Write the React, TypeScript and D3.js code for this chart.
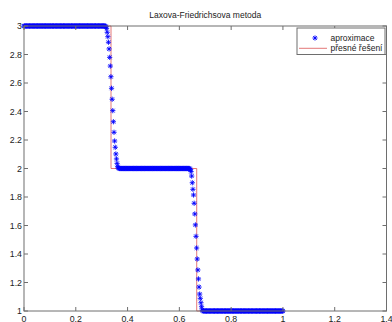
import React from "react";
import * as d3 from "d3";

// Axis ticks
const xTicks = [0, 0.2, 0.4, 0.6, 0.8, 1, 1.2, 1.4];
const yTicks = [1, 1.2, 1.4, 1.6, 1.8, 2, 2.2, 2.4, 2.6, 2.8, 3];

// Lax–Friedrichs approximation on a uniform grid over [0, 1]
const gridIntervals = 420;
const highLevel = 3;
const highCount = 132;
const frontA = [
  2.999, 2.995, 2.984, 2.956, 2.925, 2.886, 2.839, 2.78, 2.719, 2.644, 2.563,
  2.486, 2.406, 2.328, 2.254, 2.193, 2.149, 2.102, 2.067, 2.036, 2.013, 2.005,
  2.002,
];
const midLevel = 2;
const midCount = 114;
const frontB = [
  1.998, 1.992, 1.978, 1.947, 1.9, 1.854, 1.814, 1.756, 1.681, 1.604, 1.524,
  1.442, 1.365, 1.288, 1.225, 1.168, 1.119, 1.089, 1.058, 1.03, 1.007, 1.002,
];
const lowLevel = 1;
const lowCount = 130;

// Exact solution (piecewise constant)
const exactX = [0, 0.336, 0.336, 0.667, 0.667, 1];
const exactY = [3, 3, 2, 2, 1, 1];

const titleText = "Laxova-Friedrichsova metoda";
const legendLabels = ["aproximace", "přesné řešení"];

const approxY: number[] = [
  ...new Array(highCount).fill(highLevel),
  ...frontA,
  ...new Array(midCount).fill(midLevel),
  ...frontB,
  ...new Array(lowCount).fill(lowLevel),
];
const approx = approxY.map((v, i) => ({ x: i / gridIntervals, y: v }));

const W = 392;
const H = 322;
const left = 24;
const right = 386.5;
const top = 26;
const bottom = 311;

const FONT = "'Liberation Sans', Arial, sans-serif";
const TEXT = "#222";
const AXIS = "#6e6e6e";
const RED = "#dd5555";

function starPath(cx: number, cy: number, r: number) {
  const d = r * 0.72;
  return (
    `M${cx - r},${cy}H${cx + r}M${cx},${cy - r}V${cy + r}` +
    `M${cx - d},${cy - d}L${cx + d},${cy + d}M${cx - d},${cy + d}L${cx + d},${cy - d}`
  );
}

export default function App() {
  const x = d3.scaleLinear().domain([0, 1.4]).range([left, right]);
  const y = d3.scaleLinear().domain([1, 3]).range([bottom, top]);

  const exactLine = d3
    .line<number>()
    .x((_, i) => x(exactX[i]))
    .y((d) => y(d))(exactY) as string;

  const stars = approx.map((p) => starPath(x(p.x), y(p.y), 2.6)).join("");

  const tickLen = 4;

  return (
    <svg
      width={W}
      height={H}
      style={{ position: "absolute", left: 0, top: 0, background: "#fff" }}
    >
      <rect x={0} y={0} width={W} height={H} fill="#fff" />
      {/* exact solution */}
      <path d={exactLine} fill="none" stroke={RED} strokeWidth={0.8} />
      {/* approximation markers */}
      <path d={stars} fill="none" stroke="#0000ff" strokeWidth={0.9} />

      {/* frame */}
      <rect
        x={left}
        y={top}
        width={right - left}
        height={bottom - top}
        fill="none"
        stroke={AXIS}
        strokeWidth={1}
      />
      {xTicks.map((t) => (
        <g key={"x" + t}>
          <line x1={x(t)} x2={x(t)} y1={bottom} y2={bottom - tickLen} stroke={AXIS} />
          <line x1={x(t)} x2={x(t)} y1={top} y2={top + tickLen} stroke={AXIS} />
          <text
            x={x(t)}
            y={321.5}
            textAnchor="middle"
            fontFamily={FONT}
            fontSize={8.8}
            fill={TEXT}
          >
            {String(t)}
          </text>
        </g>
      ))}
      {yTicks.map((t) => (
        <g key={"y" + t}>
          <line x1={left} x2={left + tickLen} y1={y(t)} y2={y(t)} stroke={AXIS} />
          <line x1={right} x2={right - tickLen} y1={y(t)} y2={y(t)} stroke={AXIS} />
          <text
            x={left - 2}
            y={y(t)}
            dy="0.35em"
            textAnchor="end"
            fontFamily={FONT}
            fontSize={8.8}
            fill={TEXT}
          >
            {String(t)}
          </text>
        </g>
      ))}

      {/* title */}
      <text
        x={(left + right) / 2}
        y={18}
        textAnchor="middle"
        fontFamily={FONT}
        fontSize={8.5}
        fill={TEXT}
      >
        {titleText}
      </text>

      {/* legend */}
      <g>
        <rect x={297} y={28} width={88} height={26.5} fill="#fff" stroke={AXIS} strokeWidth={1} />
        <path d={starPath(315, 38, 2.6)} fill="none" stroke="#0000ff" strokeWidth={0.9} />
        <text x={330.5} y={38} dy="0.35em" fontFamily={FONT} fontSize={8.5} fill={TEXT}>
          {legendLabels[0]}
        </text>
        <line x1={299} x2={327} y1={48.3} y2={48.3} stroke={RED} strokeWidth={0.8} />
        <text x={330.5} y={48.3} dy="0.35em" fontFamily={FONT} fontSize={8.5} fill={TEXT}>
          {legendLabels[1]}
        </text>
      </g>
    </svg>
  );
}
